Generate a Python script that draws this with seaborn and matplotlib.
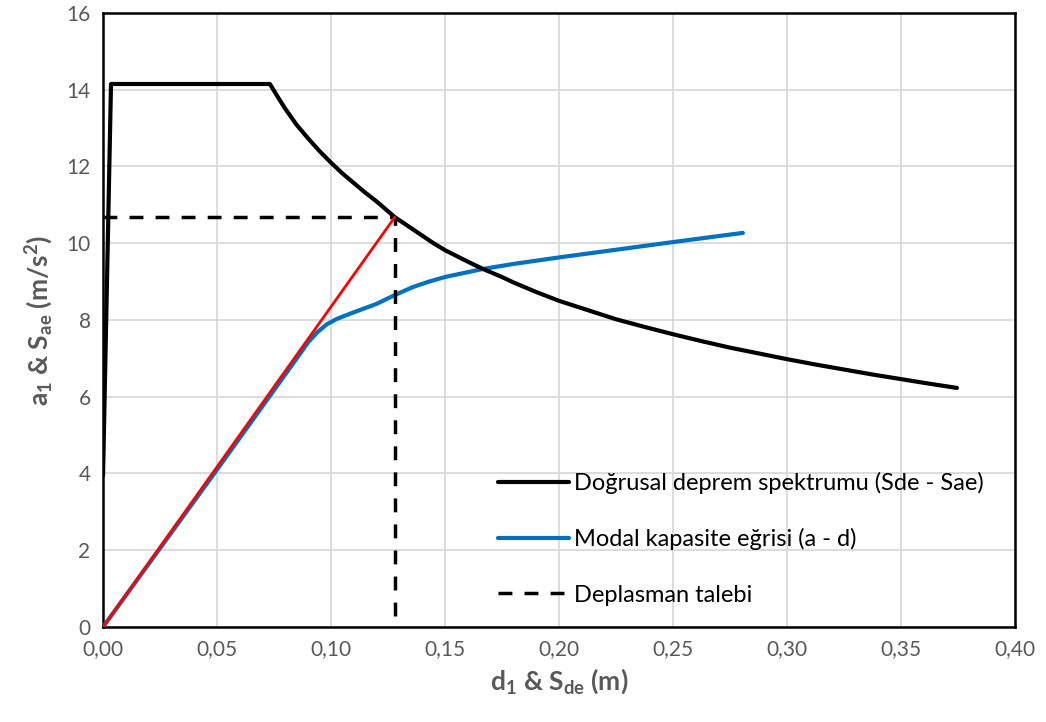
import numpy as np
import pandas as pd
import matplotlib
matplotlib.use('Agg')
import matplotlib.pyplot as plt
import seaborn as sns

# Spectrum (Sde - Sae)
spec_d = [0.0, 0.0035, 0.0732, 0.077, 0.08, 0.085, 0.09, 0.095, 0.10, 0.105, 0.11,
          0.115, 0.12, 0.128, 0.135, 0.14, 0.145, 0.15, 0.16, 0.1667, 0.175, 0.18,
          0.19, 0.20, 0.2125, 0.225, 0.2375, 0.25, 0.2625, 0.275, 0.2875, 0.30,
          0.3125, 0.325, 0.3375, 0.35, 0.3625, 0.3746]
spec_a = [3.95, 14.15, 14.15, 13.78, 13.5, 13.08, 12.73, 12.4, 12.1, 11.82, 11.57,
          11.32, 11.09, 10.68, 10.4, 10.2, 10.0, 9.82, 9.52, 9.33, 9.12, 8.98,
          8.73, 8.5, 8.26, 8.02, 7.82, 7.63, 7.45, 7.28, 7.13, 6.98,
          6.84, 6.71, 6.58, 6.46, 6.34, 6.23]

# Modal capacity curve (a - d)
cap_d = [0.0, 0.05, 0.085, 0.09, 0.094, 0.098, 0.1026, 0.11, 0.12, 0.128, 0.136, 0.143,
         0.15, 0.1667, 0.18, 0.20, 0.225, 0.25, 0.2807]
cap_a = [0.0, 4.1, 7.0, 7.42, 7.68, 7.88, 8.03, 8.2, 8.42, 8.65, 8.86, 9.0,
         9.12, 9.33, 9.46, 9.63, 9.83, 10.03, 10.27]

# Equivalent elastic line and displacement demand
red_d = [0.0, 0.128]
red_a = [0.0, 10.68]
demand_d = [0.0, 0.128, 0.128]
demand_a = [10.68, 10.68, 0.0]

sns.set_style('white')
plt.rcParams['font.family'] = ['Lato', 'DejaVu Sans']
plt.rcParams['mathtext.fontset'] = 'custom'
plt.rcParams['mathtext.bf'] = 'Lato:bold'
plt.rcParams['mathtext.rm'] = 'Lato:bold'
plt.rcParams['mathtext.default'] = 'bf'

fig = plt.figure(figsize=(10.46, 7.22), dpi=100)
ax = fig.add_axes([0.0985, 0.1316, 0.8717, 0.8504])

sns.lineplot(x=spec_d, y=spec_a, sort=False, estimator=None, ax=ax,
             color='black', linewidth=3.0, label='Doğrusal deprem spektrumu (Sde - Sae)', zorder=4)
sns.lineplot(x=cap_d, y=cap_a, sort=False, estimator=None, ax=ax,
             color='#0070C0', linewidth=3.0, label='Modal kapasite eğrisi (a - d)', zorder=3)
sns.lineplot(x=red_d, y=red_a, sort=False, estimator=None, ax=ax,
             color='#FF0000', linewidth=2.0, zorder=5, legend=False)
ax.plot(demand_d, demand_a, color='black', linewidth=2.5, dashes=(4, 3.5),
        label='Deplasman talebi', zorder=4)

ax.set_xlim(0, 0.40)
ax.set_ylim(0, 16)
ax.set_xticks(np.arange(0, 0.401, 0.05))
ax.set_xticklabels([f'{v:.2f}'.replace('.', ',') for v in np.arange(0, 0.401, 0.05)])
ax.set_yticks(range(0, 17, 2))
ax.tick_params(axis='both', length=0, labelsize=15, labelcolor='#595959', pad=9)
ax.grid(True, color='#d9d9d9', linewidth=1.3)
ax.set_axisbelow(True)
for s in ax.spines.values():
    s.set_visible(True)
    s.set_color('black')
    s.set_linewidth(1.8)

ax.set_xlabel(r'd$_1$ & S$_{de}$ (m)', fontsize=19, fontweight='bold', color='#595959', labelpad=5)
ax.set_ylabel(r'a$_1$ & S$_{ae}$ (m/s$^2$)', fontsize=19, fontweight='bold', color='#595959', labelpad=8)

leg = ax.legend(loc='lower left', bbox_to_anchor=(0.41, 0.0), frameon=False,
                fontsize=17, handlelength=3.0, handletextpad=0.2, labelspacing=1.45)
for t in leg.get_texts():
    t.set_color('black')

fig.savefig('out.png', dpi=100)
